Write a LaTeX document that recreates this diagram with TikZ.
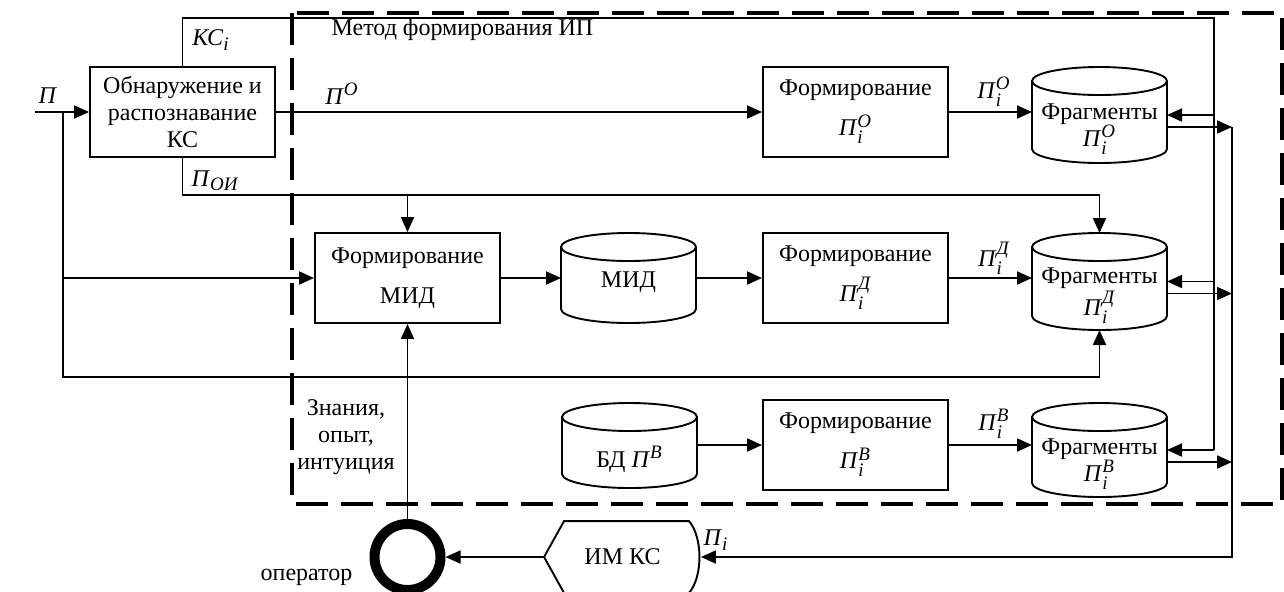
\documentclass[tikz,border=0pt]{standalone}
\usepackage{fontspec}
\setmainfont{Liberation Serif}
\usepackage{amsmath}
\usetikzlibrary{arrows.meta,calc}

\DeclareMathSizes{12}{12}{9.5}{7}
\newcommand{\Pis}[2]{\textit{П}$_{\textit{#1}}^{\textit{#2}}$}
% outline of a store (node = body below the front of the top ellipse)
\newcommand{\drawstore}[1]{%
  \draw ([yshift=7pt]#1.north west) -- ([yshift=7pt]#1.south west)
        arc[start angle=180,end angle=360,x radius=33.75pt,y radius=7pt]
        -- ([yshift=7pt]#1.north east)
        arc[start angle=0,end angle=360,x radius=33.75pt,y radius=7pt];}

\begin{document}
\begin{tikzpicture}[x=0.5pt,y=-0.5pt,line width=0.95pt,
                    >={Triangle[length=7.5pt,width=6.5pt]},
                    font=\fontsize{12}{13.5}\selectfont,
    blk/.style={draw,rectangle,minimum width=92.5pt,minimum height=45pt,
                align=center,font=\fontsize{12}{20}\selectfont},
    store/.style={rectangle,minimum width=67.5pt,inner ysep=1pt,
                  outer sep=0pt,align=center},
    frame/.style={line width=2pt,dash pattern=on 16pt off 6.5pt},
    opcirc/.style={draw,circle,line width=5pt,minimum size=33pt}]

  \useasboundingbox (0,0) rectangle (1284,591);
  \clip (0,0) rectangle (1284,591);

  % method frame
  \draw[frame] (292,13) rectangle (1282,504);
  \node[anchor=west] (title) at (324,30) {Метод формирования ИП};

  % blocks
  \node[blk,font=\fontsize{12}{13.5}\selectfont] (detect) at (182.5,112)
       {Обнаружение и\\распознавание\\КС};
  \node[blk] (fO)   at (855.5,112) {Формирование\\\Pis{i}{О}};
  \node[blk] (fmid) at (407.5,278) {Формирование\\МИД};
  \node[blk] (fD)   at (855.5,278) {Формирование\\\Pis{i}{Д}};
  \node[blk] (fB)   at (855.5,445) {Формирование\\\Pis{i}{В}};

  % stores
  \node[store,minimum height=31pt,text depth=12pt] (cmid) at (628.5,292) {МИД};
  \node[store,minimum height=28.5pt] (bdB)  at (629.5,459.5) {БД \textit{П}$^{\textit{В}}$};
  \node[store,minimum height=34pt]   (gO)   at (1099.5,129)   {Фрагменты\\\Pis{i}{О}};
  \node[store,minimum height=34.5pt] (gD)   at (1099.5,295.5) {Фрагменты\\\Pis{i}{Д}};
  \node[store,minimum height=33pt]   (gB)   at (1099.5,464)   {Фрагменты\\\Pis{i}{В}};
  \drawstore{cmid}
  \drawstore{bdB}
  \drawstore{gO}
  \drawstore{gD}
  \drawstore{gB}

  % operator and model
  \node[opcirc] (op) at (407.5,557) {};
  \node[anchor=east] (lop) at (360,577) {оператор};
  \node[minimum width=77.5pt,minimum height=35pt] (imks) at (622.5,557) {ИМ КС};
  \draw (imks.west) -- ($(imks.north west)+(10pt,0)$)
        -- ($(imks.north east)+(-6pt,0)$)
        .. controls ($(imks.north east)+(1pt,-8pt)$) and ($(imks.south east)+(1pt,8pt)$)
        .. ($(imks.south east)+(-6pt,0)$)
        -- ($(imks.south west)+(10pt,0)$) -- cycle;

  % labels
  \node (lP)   at (48,96)   {\textit{П}};
  \node (lKC)  at (211,40)  {\textit{КС}$_{\textit{i}}$};
  \node (lPO)  at (342,94)  {\textit{П}$^{\textit{О}}$};
  \node (lPOI) at (215,181) {\textit{П}$_{\textit{ОИ}}$};
  \node (lPiO) at (994,92)  {\Pis{i}{О}};
  \node (lPiD) at (994,258) {\Pis{i}{Д}};
  \node (lPiB) at (994,424) {\Pis{i}{В}};
  \node (lPi)  at (716,540) {\textit{П}$_{\textit{i}}$};
  \node[align=center] (know) at (346,437) {Знания,\\опыт,\\интуиция};

  % helper points
  \coordinate (pin)   at (35,112);
  \coordinate (split) at (63,112);
  \coordinate (sbot)  at (63,377);
  \coordinate (kbus)  at (1214,18);
  \coordinate (obus)  at (1232,557);
  \coordinate (poi)   at (1099.5,195);
  \coordinate (iO) at ([yshift=7pt]gO.east);
  \coordinate (iD) at ([yshift=7pt]gD.east);
  \coordinate (iB) at ([yshift=7pt]gB.east);
  \coordinate (oO) at ([yshift=1pt]gO.east);
  \coordinate (oD) at ([yshift=1pt]gD.east);
  \coordinate (oB) at ([yshift=1pt]gB.east);

  % connections
  \path[->] (pin)       edge (detect.west)
            (detect.east) edge (fO.west)
            (fO.east)   edge (fO.east -| gO.west)
            (fmid.east) edge (fmid.east -| cmid.west)
            (cmid.east |- fD.west) edge (fD.west)
            (fD.east)   edge (fD.east -| gD.west)
            (bdB.east |- fB.west) edge (fB.west)
            (fB.east)   edge (fB.east -| gB.west)
            (op.north)  edge (fmid.south)
            (imks.west) edge (op.east);

  \draw[->] (split) |- (fmid.west);
  \draw[->] (split) -- (sbot) -| (gD.south);

  \draw (detect.north) |- (kbus) -- (kbus |- iB);
  \path[->] (kbus |- iO) edge (iO)
            (kbus |- iD) edge (iD)
            (kbus |- iB) edge (iB);

  \path[->] (oO) edge (oO -| obus)
            (oD) edge (oD -| obus)
            (oB) edge (oB -| obus);
  \draw[->] (oO -| obus) |- (imks.east);

  \draw (detect.south) |- (poi);
  \path[->] (poi) edge ([yshift=14pt]gD.north)
            (fmid.north |- poi) edge (fmid.north);
\end{tikzpicture}
\end{document}
